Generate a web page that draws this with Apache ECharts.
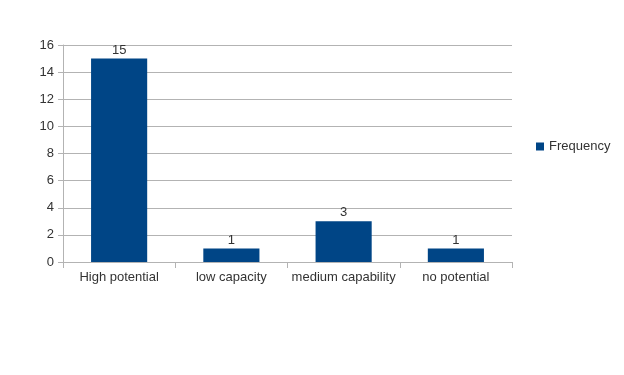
<!DOCTYPE html>
<html>
<head>
<meta charset="utf-8">
<script src="https://cdn.jsdelivr.net/npm/echarts@6/dist/echarts.min.js"></script>
<style>
  html, body { margin: 0; padding: 0; background: #fff; }
  #chart { width: 624px; height: 375px; }
</style>
</head>
<body>
<div id="chart"></div>
<script>
// data
var categories = ['High potential', 'low capacity', 'medium capability', 'no potential'];
var frequency = [15, 1, 3, 1];
var seriesName = 'Frequency';

var chart = echarts.init(document.getElementById('chart'));

var txt = { fontFamily: 'Liberation Sans, Arial, sans-serif', fontSize: 13, color: '#333' };

chart.setOption({
    animation: false,
    backgroundColor: '#fff',
    grid: { left: 63, top: 45, right: 112, bottom: 113, containLabel: false },
    legend: {
        orient: 'vertical',
        left: 531,
        top: 135,
        itemWidth: 8,
        itemHeight: 8,
        itemGap: 4,
        icon: 'rect',
        textStyle: txt,
        data: [seriesName]
    },
    xAxis: {
        type: 'category',
        data: categories,
        axisLine: { lineStyle: { color: '#b3b3b3' } },
        axisTick: { show: true, length: 6, lineStyle: { color: '#b3b3b3' } },
        axisLabel: Object.assign({ margin: 9, interval: 0 }, txt)
    },
    yAxis: {
        type: 'value',
        min: 0,
        max: 16,
        interval: 2,
        axisLine: { show: true, lineStyle: { color: '#b3b3b3' } },
        axisTick: { show: true, length: 5, lineStyle: { color: '#b3b3b3' } },
        splitLine: { lineStyle: { color: '#b3b3b3' } },
        axisLabel: Object.assign({ margin: 9 }, txt)
    },
    series: [{
        name: seriesName,
        type: 'bar',
        data: frequency,
        barWidth: '50%',
        itemStyle: { color: '#004586' },
        label: Object.assign({ show: true, position: 'top', distance: 2 }, txt)
    }]
});
</script>
</body>
</html>
